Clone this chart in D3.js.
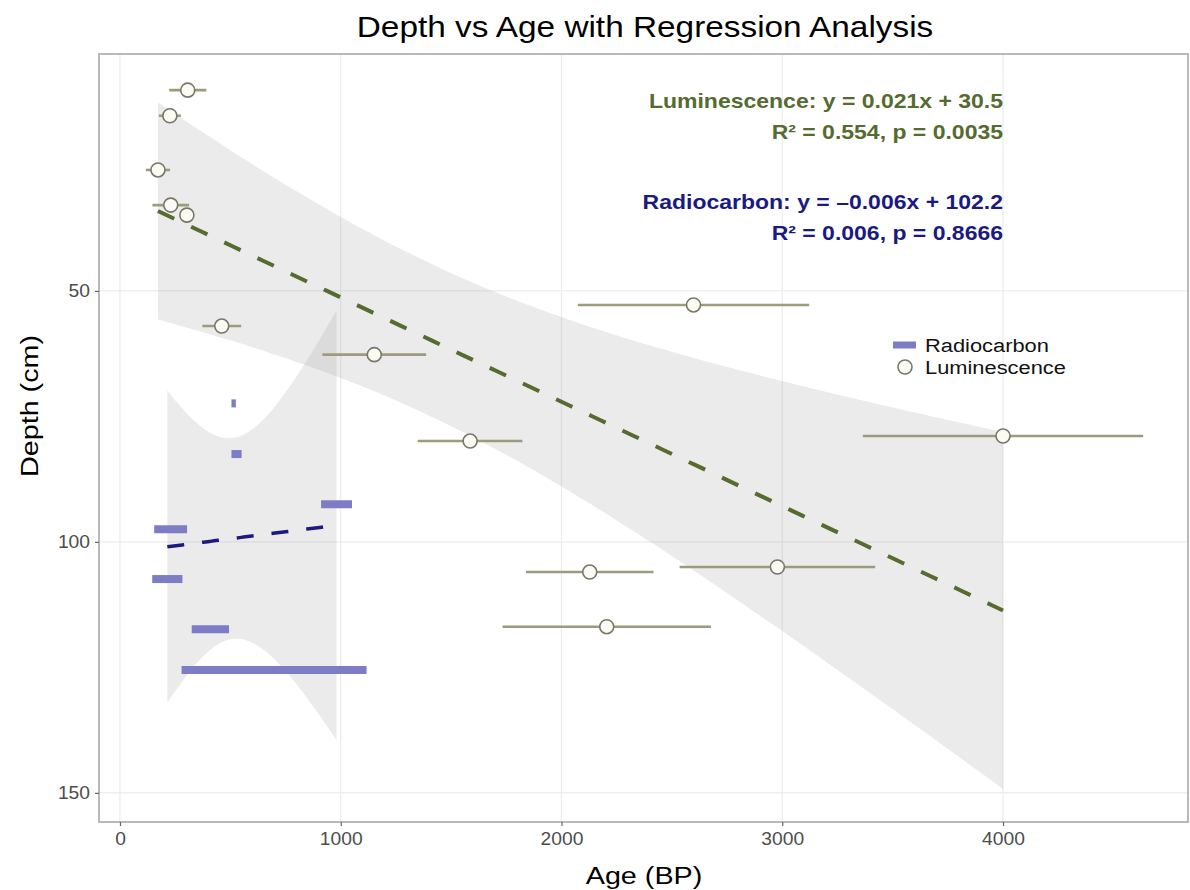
<!DOCTYPE html>
<html>
<head>
<meta charset="utf-8">
<script src="https://cdn.jsdelivr.net/npm/d3@7"></script>
<style>
  html, body { margin: 0; padding: 0; background: #ffffff; }
  svg { display: block; font-family: "Liberation Sans", Arial, Helvetica, sans-serif; }
</style>
</head>
<body>
<svg id="chart" width="1190" height="890"></svg>
<script>
// ---------------- data ----------------
const lumAge   = [307, 226, 172, 230, 303, 461, 1152, 1586, 2598, 4000, 2128, 2978, 2205];
const lumDepth = [10.0, 15.1, 25.9, 32.9, 34.9, 57.0, 62.7, 79.9, 52.8, 78.9, 106.0, 105.0, 116.9];
const lumErr   = [84, 50, 55, 83, 25, 88, 235, 237, 524, 635, 289, 443, 472];

const rcMin   = [505, 505, 911, 155, 146, 325, 279];
const rcMax   = [525, 551, 1051, 304, 283, 494, 1117];
const rcDepth = [72.4, 82.5, 92.5, 97.5, 107.4, 117.4, 125.5];

const xTicks = [0, 1000, 2000, 3000, 4000];
const yTicks = [50, 100, 150];

const titleText = "Depth vs Age with Regression Analysis";
const xLabel = "Age (BP)";
const yLabel = "Depth (cm)";
const lumLabels = ["Luminescence: y = 0.021x + 30.5", "R\u00B2 = 0.554, p = 0.0035"];
const rcLabels  = ["Radiocarbon: y = \u20130.006x + 102.2", "R\u00B2 = 0.006, p = 0.8666"];
const legendLabels = ["Radiocarbon", "Luminescence"];
// t quantiles (0.975) by degrees of freedom
const tQuant = {5: 2.571, 11: 2.201};

const colLum = "#556b2f";
const colRc  = "#1a1a80";
const colRcBar = "#7d7dc6";
const colErr = "#9c9c7c";

// ---------------- layout ----------------
const svg = d3.select("#chart");
const M = {left: 99, top: 54, right: 2, bottom: 68};
const W = 1190 - M.left - M.right;
const H = 890 - M.top - M.bottom;

const x = d3.scaleLinear().domain([-95, 4838]).range([M.left, M.left + W]);
const y = d3.scaleLinear().domain([2.8, 155.8]).range([M.top, M.top + H]);

// stretched text helper (reference type is set wide)
function wideText(parent, tx, ty, txt, size, sx, anchor, rot) {
  const tr = `translate(${tx},${ty})` + (rot ? ` rotate(${rot})` : "") + ` scale(${sx},1)`;
  return parent.append("text").attr("transform", tr).attr("text-anchor", anchor || "start")
    .attr("font-size", size).text(txt);
}

// grid
const g = svg.append("g");
g.selectAll(".vg").data(xTicks).enter().append("line")
  .attr("x1", d => x(d)).attr("x2", d => x(d))
  .attr("y1", M.top).attr("y2", M.top + H)
  .attr("stroke", "#ebebeb").attr("stroke-width", 1.2);
g.selectAll(".hg").data(yTicks).enter().append("line")
  .attr("y1", d => y(d)).attr("y2", d => y(d))
  .attr("x1", M.left).attr("x2", M.left + W)
  .attr("stroke", "#ebebeb").attr("stroke-width", 1.2);

// ---------------- regression helper ----------------
function fitBand(xs, ys) {
  const n = xs.length;
  const mx = d3.mean(xs), my = d3.mean(ys);
  let sxx = 0, sxy = 0;
  for (let i = 0; i < n; i++) { sxx += (xs[i]-mx)**2; sxy += (xs[i]-mx)*(ys[i]-my); }
  const b = sxy / sxx, a = my - b*mx;
  let sse = 0;
  for (let i = 0; i < n; i++) sse += (ys[i] - (a + b*xs[i]))**2;
  const s = Math.sqrt(sse / (n - 2));
  const t = tQuant[n - 2];
  const [x0, x1] = d3.extent(xs);
  return d3.range(0, 81).map(k => {
    const xv = x0 + (x1 - x0) * k / 80;
    const fit = a + b*xv;
    const se = s * Math.sqrt(1/n + (xv-mx)**2 / sxx);
    return {x: xv, fit: fit, lo: fit - t*se, hi: fit + t*se};
  });
}

const rcMid = rcMin.map((d, i) => (d + rcMax[i]) / 2);
const lumBand = fitBand(lumAge, lumDepth);
const rcBand = fitBand(rcMid, rcDepth);

const area = d3.area().x(d => x(d.x)).y0(d => y(d.lo)).y1(d => y(d.hi));
const line = d3.line().x(d => x(d.x)).y(d => y(d.fit));

svg.append("path").datum(lumBand).attr("d", area)
  .attr("fill", "#999999").attr("fill-opacity", 0.2);
svg.append("path").datum(rcBand).attr("d", area)
  .attr("fill", "#999999").attr("fill-opacity", 0.2);

// radiocarbon bars
svg.selectAll(".rc").data(rcDepth).enter().append("line")
  .attr("x1", (d, i) => x(rcMin[i])).attr("x2", (d, i) => x(rcMax[i]))
  .attr("y1", d => y(d)).attr("y2", d => y(d))
  .attr("stroke", colRcBar).attr("stroke-width", 8);

// regression lines
svg.append("path").datum(rcBand).attr("d", line)
  .attr("fill", "none").attr("stroke", colRc).attr("stroke-width", 3.5)
  .attr("stroke-dasharray", "17,18");
svg.append("path").datum(lumBand).attr("d", line)
  .attr("fill", "none").attr("stroke", colLum).attr("stroke-width", 4)
  .attr("stroke-dasharray", "18,18.7");

// luminescence error bars
svg.selectAll(".le").data(lumDepth).enter().append("line")
  .attr("x1", (d, i) => x(lumAge[i] - lumErr[i])).attr("x2", (d, i) => x(lumAge[i] + lumErr[i]))
  .attr("y1", d => y(d)).attr("y2", d => y(d))
  .attr("stroke", colErr).attr("stroke-width", 2.6);

// luminescence points
svg.selectAll(".lp").data(lumDepth).enter().append("circle")
  .attr("cx", (d, i) => x(lumAge[i])).attr("cy", d => y(d)).attr("r", 7)
  .attr("fill", "#fbfbf3").attr("stroke", "#77776a").attr("stroke-width", 1.6);

// panel border
svg.append("rect").attr("x", M.left).attr("y", M.top).attr("width", W).attr("height", H)
  .attr("fill", "none").attr("stroke", "#a8a8a8").attr("stroke-width", 1.6);

// axes
const xAxis = svg.append("g").attr("transform", `translate(0,${M.top + H})`)
  .call(d3.axisBottom(x).tickValues(xTicks).tickSize(4).tickPadding(6).tickFormat(d3.format("d")));
const yAxis = svg.append("g").attr("transform", `translate(${M.left},0)`)
  .call(d3.axisLeft(y).tickValues(yTicks).tickSize(4).tickPadding(5).tickFormat(d3.format("d")));
[xAxis, yAxis].forEach(a => {
  a.select(".domain").remove();
  a.selectAll(".tick line").attr("stroke", "#666666").attr("stroke-width", 1.2);
  a.selectAll(".tick text").attr("fill", "#4d4d4d").attr("font-size", 18)
    .attr("font-family", "Liberation Sans, Arial, sans-serif");
});
xAxis.selectAll(".tick text").each(function() {
  const t = d3.select(this);
  t.attr("transform", `translate(0,${+t.attr("y")}) scale(1.07,1) translate(0,${-t.attr("y")})`);
});
yAxis.selectAll(".tick text").each(function() {
  const t = d3.select(this); const xx = +t.attr("x");
  t.attr("transform", `translate(${xx},0) scale(1.07,1) translate(${-xx},0)`);
});

// title & axis labels
wideText(svg, 645, 37, titleText, 29, 1.15, "middle").attr("fill", "#000");
wideText(svg, 644, 884, xLabel, 23, 1.25, "middle").attr("fill", "#000");
wideText(svg, 38, 406, yLabel, 23, 1.25, "middle", -90).attr("fill", "#000");

// annotations (right aligned at age 4000)
const annX = x(4000);
lumLabels.forEach((t, i) => {
  wideText(svg, annX, 108 + i*31, t, 20, 1.15, "end")
    .attr("font-weight", "bold").attr("fill", colLum);
});
rcLabels.forEach((t, i) => {
  wideText(svg, annX, 209 + i*31, t, 20, 1.15, "end")
    .attr("font-weight", "bold").attr("fill", colRc);
});

// legend
const lg = svg.append("g").attr("transform", "translate(893,345)");
lg.append("line").attr("x1", 0).attr("x2", 23).attr("y1", 0).attr("y2", 0)
  .attr("stroke", colRcBar).attr("stroke-width", 7);
lg.append("circle").attr("cx", 12).attr("cy", 22).attr("r", 7)
  .attr("fill", "#fbfbf3").attr("stroke", "#77776a").attr("stroke-width", 1.6);
legendLabels.forEach((t, i) => {
  wideText(lg, 32, 7 + i*22, t, 19, 1.15, "start").attr("fill", "#111");
});
</script>
</body>
</html>
